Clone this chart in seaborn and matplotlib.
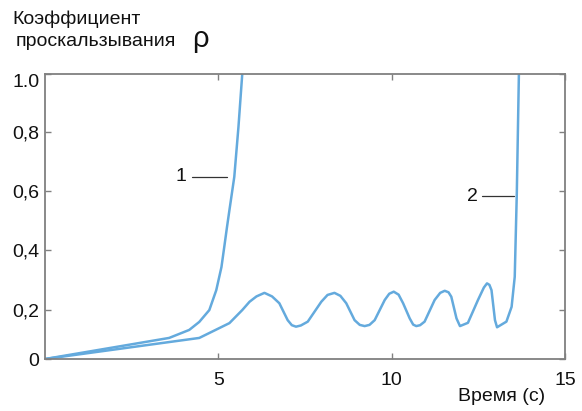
import matplotlib
matplotlib.use("Agg")
import matplotlib.pyplot as plt
import seaborn as sns
import pandas as pd

# Curve 1: time (s) and slip coefficient
t1 = [0.0, 3.58, 4.16, 4.45, 4.74, 4.94, 5.09, 5.17, 5.25, 5.32, 5.46, 5.58, 5.69]
rho1 = [0.034, 0.105, 0.132, 0.159, 0.199, 0.266, 0.344, 0.411, 0.479, 0.536, 0.648, 0.816, 0.995]

# Curve 2
t2 = [0.0, 4.45, 5.32, 5.69, 5.90, 6.10, 6.33, 6.55, 6.76, 7.00, 7.12, 7.24, 7.38,
      7.58, 7.97, 8.15, 8.35, 8.52, 8.69, 8.93, 9.08, 9.22, 9.36, 9.51, 9.80, 9.93,
      10.06, 10.20, 10.33, 10.52, 10.62, 10.71, 10.82, 10.95, 11.24, 11.40, 11.53,
      11.64, 11.72, 11.87, 11.97, 12.20, 12.49, 12.66, 12.75, 12.82, 12.88, 12.98,
      13.04, 13.31, 13.46, 13.55, 13.61, 13.67]
rho2 = [0.034, 0.105, 0.155, 0.199, 0.227, 0.245, 0.257, 0.245, 0.222, 0.165, 0.148,
        0.143, 0.147, 0.160, 0.227, 0.250, 0.257, 0.247, 0.222, 0.165, 0.149, 0.145,
        0.149, 0.165, 0.233, 0.254, 0.261, 0.251, 0.222, 0.171, 0.150, 0.145, 0.148,
        0.160, 0.233, 0.257, 0.264, 0.259, 0.244, 0.171, 0.145, 0.156, 0.233, 0.275,
        0.289, 0.284, 0.266, 0.165, 0.141, 0.160, 0.210, 0.311, 0.594, 0.995]

ytick_vals = [0.034, 0.2, 0.4, 0.6, 0.8, 0.995]
ytick_labels = ["0", "0,2", "0,4", "0,6", "0,8", "1.0"]
xtick_vals = [5, 10, 15]
xtick_labels = ["5", "10", "15"]

sns.set_style("ticks")
plt.rcParams['font.family'] = ['Liberation Sans', 'DejaVu Sans']

W, H = 582, 411
fig = plt.figure(figsize=(W / 100, H / 100), dpi=100)
ax = fig.add_axes([45 / W, 1 - 359 / H, (565 - 45) / W, (359 - 74) / H])

line_color = "#64aadd"
df1 = pd.DataFrame({"t": t1, "rho": rho1})
df2 = pd.DataFrame({"t": t2, "rho": rho2})
sns.lineplot(data=df1, x="t", y="rho", ax=ax, color=line_color, lw=1.8, sort=False)
sns.lineplot(data=df2, x="t", y="rho", ax=ax, color=line_color, lw=1.8, sort=False)

ax.set_xlim(0, 15)
ax.set_ylim(0.034, 0.995)
ax.set_xticks(xtick_vals)
ax.set_xticklabels(xtick_labels)
ax.set_yticks(ytick_vals)
ax.set_yticklabels(ytick_labels)
ax.set_xlabel("")
ax.set_ylabel("")

spine_color = "#808080"
for s in ax.spines.values():
    s.set_color(spine_color)
    s.set_linewidth(1.3)
    s.set_visible(True)
ax.tick_params(direction="in", length=4, width=1, color=spine_color,
               top=True, right=True, labelsize=14, labelcolor="#111111")
ax.tick_params(axis="x", pad=9)
ax.tick_params(axis="y", pad=4)
ax.get_yticklabels()[-1].set_va("top")

# annotations
ax.text(3.93, 0.651, "1", fontsize=14, ha="center", va="center", color="#111111")
ax.plot([4.25, 5.26], [0.648, 0.648], color="#333333", lw=0.9)
ax.text(12.34, 0.583, "2", fontsize=14, ha="center", va="center", color="#111111")
ax.plot([12.62, 13.53], [0.583, 0.583], color="#333333", lw=0.9)

fig.text(12 / W, 1 - 24 / H, "Коэффициент", fontsize=14, ha="left", va="baseline", color="#111111")
fig.text(16 / W, 1 - 46 / H, "проскальзывания", fontsize=14, ha="left", va="baseline", color="#111111")
fig.text(192 / W, 1 - 47 / H, "ρ", fontsize=21, ha="left", va="baseline", color="#111111")
fig.text(545 / W, 1 - 401 / H, "Время (с)", fontsize=14, ha="right", va="baseline", color="#111111")

fig.savefig("out.png", dpi=100)
